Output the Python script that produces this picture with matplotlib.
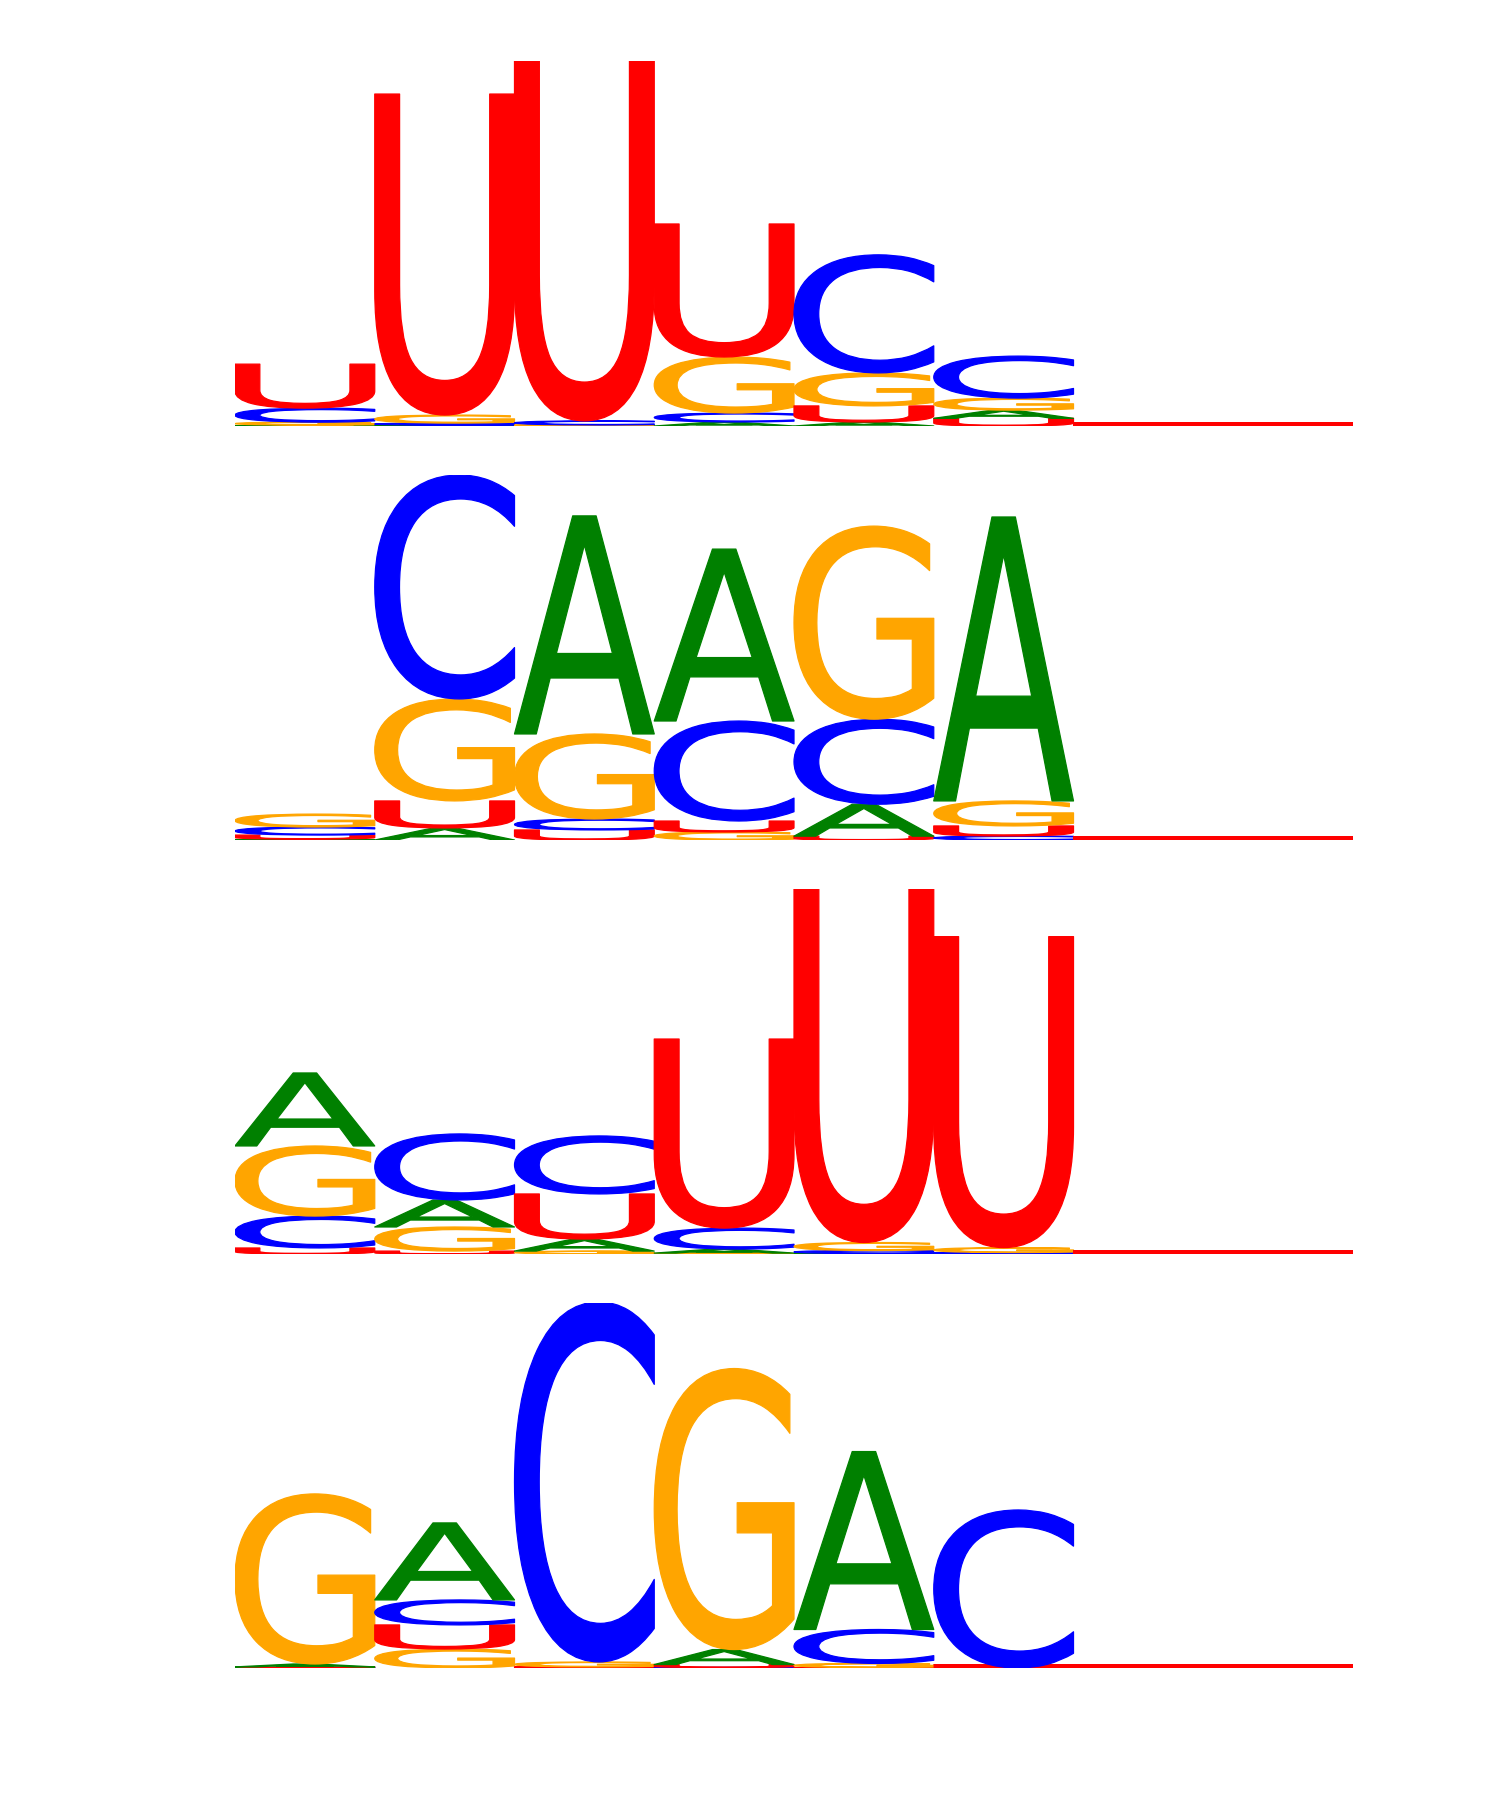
import matplotlib
matplotlib.use('Agg')
import matplotlib.pyplot as plt
from matplotlib.textpath import TextPath
from matplotlib.patches import PathPatch
from matplotlib.font_manager import FontProperties
from matplotlib.transforms import Affine2D

# Sequence logo data: letter heights (bits) per position, 4 motifs
letters = ['A', 'C', 'G', 'U']
colors = {'A': '#008000', 'C': '#0000FF', 'G': '#FFA500', 'U': '#FF0000'}
positions = [1, 2, 3, 4, 5, 6, 7, 8]

m1_A = [0.005, 0.005, 0.003, 0.022, 0.022, 0.045, 0.0, 0.0]
m1_C = [0.077, 0.011, 0.022, 0.049, 0.647, 0.230, 0.0, 0.0]
m1_G = [0.016, 0.044, 0.003, 0.307, 0.181, 0.066, 0.0, 0.0]
m1_U = [0.241, 1.759, 1.973, 0.729, 0.088, 0.042, 0.0, 0.0]

m2_A = [0.005, 0.066, 1.195, 0.942, 0.175, 1.556, 0.0, 0.0]
m2_C = [0.044, 1.227, 0.060, 0.548, 0.466, 0.022, 0.0, 0.0]
m2_G = [0.071, 0.559, 0.466, 0.044, 1.058, 0.137, 0.0, 0.0]
m2_U = [0.022, 0.148, 0.055, 0.060, 0.021, 0.055, 0.0, 0.0]

m3_A = [0.400, 0.148, 0.066, 0.022, 0.003, 0.003, 0.0, 0.0]
m3_C = [0.175, 0.362, 0.318, 0.115, 0.016, 0.005, 0.0, 0.0]
m3_G = [0.384, 0.132, 0.016, 0.005, 0.044, 0.027, 0.0, 0.0]
m3_U = [0.033, 0.016, 0.247, 1.036, 1.940, 1.704, 0.0, 0.0]

m4_A = [0.016, 0.422, 0.003, 0.082, 0.975, 0.0, 0.0, 0.0]
m4_C = [0.003, 0.137, 1.973, 0.003, 0.186, 0.866, 0.0, 0.0]
m4_G = [0.932, 0.104, 0.027, 1.540, 0.022, 0.0, 0.0, 0.0]
m4_U = [0.003, 0.132, 0.003, 0.016, 0.003, 0.0, 0.0, 0.0]

motifs = [
    {'A': m1_A, 'C': m1_C, 'G': m1_G, 'U': m1_U},
    {'A': m2_A, 'C': m2_C, 'G': m2_G, 'U': m2_U},
    {'A': m3_A, 'C': m3_C, 'G': m3_G, 'U': m3_U},
    {'A': m4_A, 'C': m4_C, 'G': m4_G, 'U': m4_U},
]

fp = FontProperties(family='DejaVu Sans', weight='normal')
glyphs = {L: TextPath((0, 0), L, size=100, prop=fp) for L in letters}

W, H = 1500, 1800
DPI = 100
baselines = [426, 840, 1254, 1668]
left_px, width_px, height_px = 235, 1118, 365
ymax = 2.0
flat_px = 4.0  # thickness of a zero-height letter (drawn as a flat stroke)


def draw_letter(ax, L, x0, y0, w, h, color):
    p = glyphs[L]
    ext = p.get_extents()
    if h > 0:
        t = (Affine2D().translate(-ext.x0, -ext.y0)
             .scale(w / ext.width, h / ext.height)
             .translate(x0, y0))
        ax.add_patch(PathPatch(t.transform_path(p), facecolor=color,
                               edgecolor=color, lw=0.9, joinstyle='round'))
    else:
        off = (flat_px / 2) / height_px * ymax
        t = (Affine2D().translate(-ext.x0, -ext.y0)
             .scale(w / ext.width, 0.0)
             .translate(x0, y0 + off))
        ax.add_patch(PathPatch(t.transform_path(p), facecolor='none',
                               edgecolor=color, lw=flat_px * 72 / DPI,
                               capstyle='butt', joinstyle='miter'))


fig = plt.figure(figsize=(W / DPI, H / DPI), dpi=DPI)
fig.patch.set_facecolor('white')

for m, b in zip(motifs, baselines):
    ax = fig.add_axes([left_px / W, 1 - b / H, width_px / W, height_px / H])
    ax.set_xlim(0.5, len(positions) + 0.5)
    ax.set_ylim(0, ymax)
    ax.axis('off')
    for i, pos in enumerate(positions):
        col = sorted(letters, key=lambda L: m[L][i])
        y = 0.0
        for L in col:
            h = m[L][i]
            draw_letter(ax, L, pos - 0.5, y, 1.0, h, colors[L])
            y += h

fig.savefig('out.png', dpi=DPI, facecolor='white')
